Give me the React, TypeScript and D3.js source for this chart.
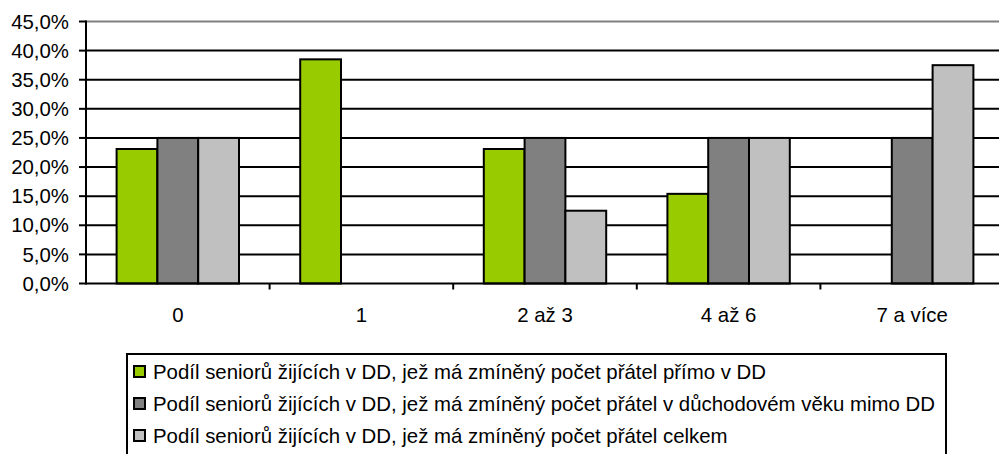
import React from 'react';
import * as d3 from 'd3';

const categories = ['0', '1', '2 až 3', '4 až 6', '7 a více'];
const seriesNames = [
  'Podíl seniorů žijících v DD, jež má zmíněný počet přátel přímo v DD',
  'Podíl seniorů žijících v DD, jež má zmíněný počet přátel v důchodovém věku mimo DD',
  'Podíl seniorů žijících v DD, jež má zmíněný počet přátel celkem',
];
const seriesColors = ['#99cc00', '#808080', '#c0c0c0'];
const primoDD = [0.231, 0.385, 0.231, 0.154, 0];
const mimoDD = [0.25, 0, 0.25, 0.25, 0.25];
const celkem = [0.25, 0, 0.125, 0.25, 0.375];
const yTicks = [0, 0.05, 0.1, 0.15, 0.2, 0.25, 0.3, 0.35, 0.4, 0.45];

const W = 999;
const H = 454;
const FONT = '"Liberation Sans", Arial, sans-serif';
const FS = 20.4;

const App: React.FC = () => {
  const values = [primoDD, mimoDD, celkem];

  const x = d3.scaleBand<string>().domain(categories).range([86, 1004]).padding(0);
  const cw = x.bandwidth();
  const barW = cw / 4.5;
  const inner = d3.scaleBand<number>()
    .domain([0, 1, 2])
    .range([barW * 0.75, cw - barW * 0.75])
    .padding(0);
  const y = d3.scaleLinear().domain([0, 0.45]).range([283.5, 21.5]);
  const fmt = (v: number) => (v * 100).toFixed(1).replace('.', ',') + '%';

  const plotLeft = 86;
  const plotRight = 1004;

  return (
    <svg
      width={W}
      height={H}
      style={{ position: 'absolute', left: 0, top: 0, background: '#fff' }}
      fontFamily={FONT}
    >
      {/* gridlines */}
      {yTicks.slice(1).map((t, i) => (
        <line
          key={'g' + t}
          x1={plotLeft}
          x2={plotRight}
          y1={y(t)}
          y2={y(t)}
          stroke={i === yTicks.length - 2 ? '#808080' : '#000'}
          strokeWidth={2}
        />
      ))}

      {/* bars */}
      {categories.map((c, ci) =>
        values.map((vals, si) =>
          vals[ci] > 0 ? (
            <rect
              key={c + si}
              x={(x(c) as number) + (inner(si) as number)}
              y={y(vals[ci])}
              width={inner.bandwidth()}
              height={y(0) - y(vals[ci])}
              fill={seriesColors[si]}
              stroke="#000"
              strokeWidth={2}
            />
          ) : null
        )
      )}

      {/* y axis */}
      <line x1={plotLeft} x2={plotLeft} y1={y(0.45) - 1} y2={y(0) + 1} stroke="#000" strokeWidth={2} />
      {yTicks.map((t) => (
        <g key={'y' + t}>
          <line x1={plotLeft - 7} x2={plotLeft} y1={y(t)} y2={y(t)} stroke="#000" strokeWidth={2} />
          <text x={69} y={y(t)} dy="0.35em" textAnchor="end" fontSize={FS} fill="#000">
            {fmt(t)}
          </text>
        </g>
      ))}

      {/* x axis */}
      <line x1={plotLeft} x2={plotRight} y1={y(0)} y2={y(0)} stroke="#000" strokeWidth={2} />
      {categories.map((c, i) => (
        <g key={'x' + c}>
          {i > 0 && (
            <line
              x1={x(c) as number}
              x2={x(c) as number}
              y1={y(0)}
              y2={y(0) + 6}
              stroke="#000"
              strokeWidth={2}
            />
          )}
          <text
            x={(x(c) as number) + cw / 2}
            y={322}
            textAnchor="middle"
            fontSize={FS}
            fill="#000"
          >
            {c}
          </text>
        </g>
      ))}

      {/* legend */}
      <rect x={127} y={354} width={819} height={130} fill="#fff" stroke="#000" strokeWidth={2} />
      {seriesNames.map((name, i) => {
        const cy = 372 + i * 32;
        return (
          <g key={'l' + i}>
            <rect x={134} y={cy - 6} width={11} height={11} fill={seriesColors[i]} stroke="#000" strokeWidth={2} />
            <text x={153} y={cy} dy="0.35em" fontSize={FS} fill="#000">
              {name}
            </text>
          </g>
        );
      })}
    </svg>
  );
};

export default App;
